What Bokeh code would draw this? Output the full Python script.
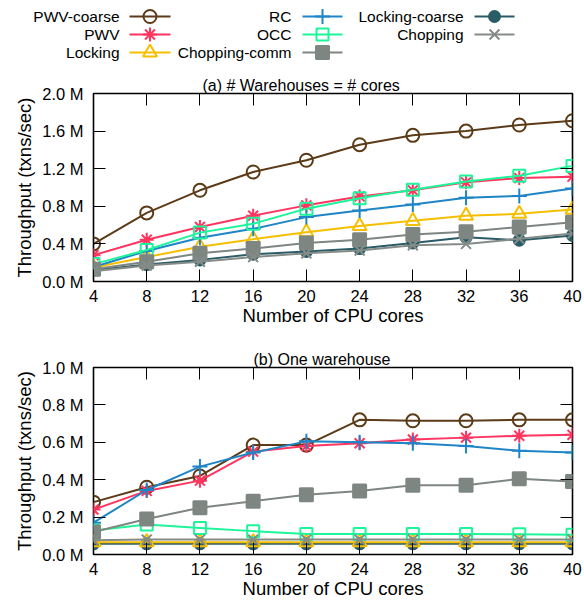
from bokeh.plotting import figure
from bokeh.models import Range1d, LinearAxis, FixedTicker, PrintfTickFormatter, Label
from bokeh.layouts import column
from bokeh.embed import file_html
from bokeh.resources import INLINE

# ---------------- data ----------------
cores = [4, 8, 12, 16, 20, 24, 28, 32, 36, 40]
x_ticks = [4, 8, 12, 16, 20, 24, 28, 32, 36, 40]

series_names = ["PWV-coarse", "PWV", "Locking", "RC", "OCC",
                "Chopping-comm", "Locking-coarse", "Chopping"]

# (a) # Warehouses = # cores  (million txns/sec)
a_pwv_coarse = [0.40, 0.73, 0.97, 1.165, 1.29, 1.455, 1.555, 1.60, 1.665, 1.71]
a_pwv = [0.28, 0.445, 0.58, 0.70, 0.81, 0.905, 0.97, 1.055, 1.10, 1.115]
a_locking = [0.15, 0.26, 0.37, 0.45, 0.525, 0.59, 0.645, 0.70, 0.72, 0.765]
a_rc = [0.155, 0.325, 0.465, 0.56, 0.685, 0.755, 0.82, 0.89, 0.91, 0.99]
a_occ = [0.185, 0.335, 0.52, 0.615, 0.775, 0.885, 0.975, 1.065, 1.125, 1.23]
a_chopping_comm = [0.13, 0.21, 0.30, 0.35, 0.41, 0.445, 0.50, 0.53, 0.58, 0.63]
a_locking_coarse = [0.12, 0.18, 0.23, 0.29, 0.32, 0.35, 0.41, 0.47, 0.44, 0.49]
a_chopping = [0.11, 0.17, 0.21, 0.26, 0.30, 0.33, 0.385, 0.40, 0.455, 0.51]
a_y_ticks = [0.0, 0.4, 0.8, 1.2, 1.6, 2.0]

# (b) One warehouse
b_pwv_coarse = [0.28, 0.36, 0.42, 0.585, 0.585, 0.72, 0.715, 0.715, 0.72, 0.72]
b_pwv = [0.24, 0.34, 0.395, 0.55, 0.58, 0.595, 0.615, 0.625, 0.635, 0.64]
b_locking = [0.066, 0.066, 0.066, 0.066, 0.066, 0.066, 0.066, 0.066, 0.066, 0.066]
b_rc = [0.17, 0.345, 0.47, 0.545, 0.605, 0.60, 0.595, 0.58, 0.555, 0.545]
b_occ = [0.128, 0.16, 0.142, 0.125, 0.11, 0.11, 0.11, 0.11, 0.108, 0.106]
b_chopping_comm = [0.12, 0.19, 0.25, 0.285, 0.32, 0.34, 0.37, 0.37, 0.405, 0.39]
b_locking_coarse = [0.057, 0.057, 0.057, 0.057, 0.057, 0.057, 0.057, 0.057, 0.057, 0.057]
b_chopping = [0.076, 0.08, 0.08, 0.08, 0.08, 0.08, 0.08, 0.08, 0.08, 0.08]
b_y_ticks = [0.0, 0.2, 0.4, 0.6, 0.8, 1.0]

# ---------------- styles ----------------
FONT = "Liberation Sans"
STYLE = {
    "PWV-coarse":     dict(color="#5C3B18", marker="circle",   size=13, filled=False),
    "PWV":            dict(color="#FF3560", marker="asterisk", size=14, filled=False),
    "Locking":        dict(color="#F5BF00", marker="triangle", size=14, filled=False),
    "RC":             dict(color="#1F85C6", marker="cross",    size=15, filled=False),
    "OCC":            dict(color="#1EF59A", marker="square",   size=12, filled=False),
    "Chopping-comm":  dict(color="#7E8682", marker="square",   size=13, filled=True),
    "Locking-coarse": dict(color="#2A5C67", marker="circle",   size=11, filled=True),
    "Chopping":       dict(color="#858C88", marker="x",        size=14, filled=False),
}
DRAW_ORDER = ["Locking-coarse", "PWV-coarse", "PWV", "Locking", "RC", "OCC",
              "Chopping-comm", "Chopping"]

FRAME_LEFT = 93
FRAME_RIGHT = 572
FIG_W = 584


def draw_series(p, xs, ys, name):
    st = STYLE[name]
    p.line(xs, ys, line_color=st["color"], line_width=2)
    p.scatter(xs, ys, marker=st["marker"], size=st["size"],
              line_color=st["color"], line_width=2,
              fill_color=st["color"] if st["filled"] else None)


def make_plot(title, title_offset, data, y_max, y_ticks, height, border_top, border_bottom):
    p = figure(width=FIG_W, height=height, output_backend="svg", toolbar_location=None,
               x_range=Range1d(4, 40), y_range=Range1d(0, y_max),
               min_border_left=FRAME_LEFT, min_border_right=FIG_W - FRAME_RIGHT,
               min_border_top=border_top, min_border_bottom=border_bottom,
               title=title)
    p.title.text_font = FONT
    p.title.text_font_size = "16px"
    p.title.text_font_style = "normal"
    p.title.text_color = "black"
    p.title.align = "left"
    p.title.offset = title_offset
    p.title.standoff = 0
    p.grid.visible = False
    p.outline_line_color = "black"
    p.outline_line_width = 1.6
    p.background_fill_color = "white"

    for ax in (p.xaxis[0], p.yaxis[0]):
        ax.axis_line_color = None
        ax.major_tick_in = 12
        ax.major_tick_out = 0
        ax.minor_tick_line_color = None
        ax.major_tick_line_color = "black"
        ax.major_label_text_font = FONT
        ax.major_label_text_font_size = "16.5px"
        ax.major_label_text_color = "black"
        ax.axis_label_text_font = FONT
        ax.axis_label_text_font_size = "18.5px"
        ax.axis_label_text_font_style = "normal"
        ax.axis_label_text_color = "black"
        ax.major_label_standoff = 10
        ax.axis_label_standoff = 4
    p.xaxis[0].major_label_standoff = 8
    p.xaxis[0].axis_label_standoff = 0
    p.xaxis[0].ticker = FixedTicker(ticks=x_ticks)
    p.yaxis[0].ticker = FixedTicker(ticks=y_ticks)
    p.yaxis[0].formatter = PrintfTickFormatter(format="%.1f M")
    p.xaxis[0].axis_label = "Number of CPU cores"
    p.yaxis[0].axis_label = "Throughput (txns/sec)"

    # mirrored ticks (right / top)
    right = LinearAxis(ticker=FixedTicker(ticks=y_ticks))
    top = LinearAxis(ticker=FixedTicker(ticks=x_ticks))
    for ax in (right, top):
        ax.axis_line_color = None
        ax.major_tick_in = 12
        ax.major_tick_out = 0
        ax.minor_tick_line_color = None
        ax.major_label_text_font_size = "0px"
        ax.major_label_standoff = 0
        ax.major_label_text_alpha = 0
    p.add_layout(right, "right")
    p.add_layout(top, "above")

    for name in DRAW_ORDER:
        draw_series(p, cores, data[series_names.index(name)], name)
    return p


# ---------------- legend (page-pixel coordinates, own full-width frame) ----------------
leg = figure(width=FIG_W, height=64, output_backend="svg", toolbar_location=None,
             x_range=Range1d(0, FIG_W), y_range=Range1d(64, 0),
             min_border_left=0, min_border_right=0,
             min_border_top=0, min_border_bottom=0)
leg.frame_align = False
leg.axis.visible = False
leg.grid.visible = False
leg.outline_line_color = None

col_text_right = [119, 291, 463]
col_sample = [(129, 170), (302, 342), (474, 514)]
row_y = [16, 34, 52]
for i, name in enumerate(series_names):
    c, r = divmod(i, 3)
    st = STYLE[name]
    y = row_y[r]
    leg.add_layout(Label(x=col_text_right[c], y=y, text=name, text_align="right",
                         text_baseline="middle", text_font=FONT,
                         text_font_size="15.5px", text_color="black"))
    x0, x1 = col_sample[c]
    leg.line([x0, x1], [y, y], line_color=st["color"], line_width=2)
    leg.scatter([(x0 + x1) / 2], [y], marker=st["marker"], size=st["size"],
                line_color=st["color"], line_width=2,
                fill_color=st["color"] if st["filled"] else None)

data_a = [a_pwv_coarse, a_pwv, a_locking, a_rc, a_occ,
          a_chopping_comm, a_locking_coarse, a_chopping]
data_b = [b_pwv_coarse, b_pwv, b_locking, b_rc, b_occ,
          b_chopping_comm, b_locking_coarse, b_chopping]

pa = make_plot("(a) # Warehouses = # cores", 109, data_a, 2.0, a_y_ticks, 274, 29, 57)
pb = make_plot("(b) One warehouse", 160, data_b, 1.0, b_y_ticks, 264, 29, 48)

layout = column(leg, pa, pb, spacing=0)
open("out.html", "w").write(file_html(layout, INLINE))
